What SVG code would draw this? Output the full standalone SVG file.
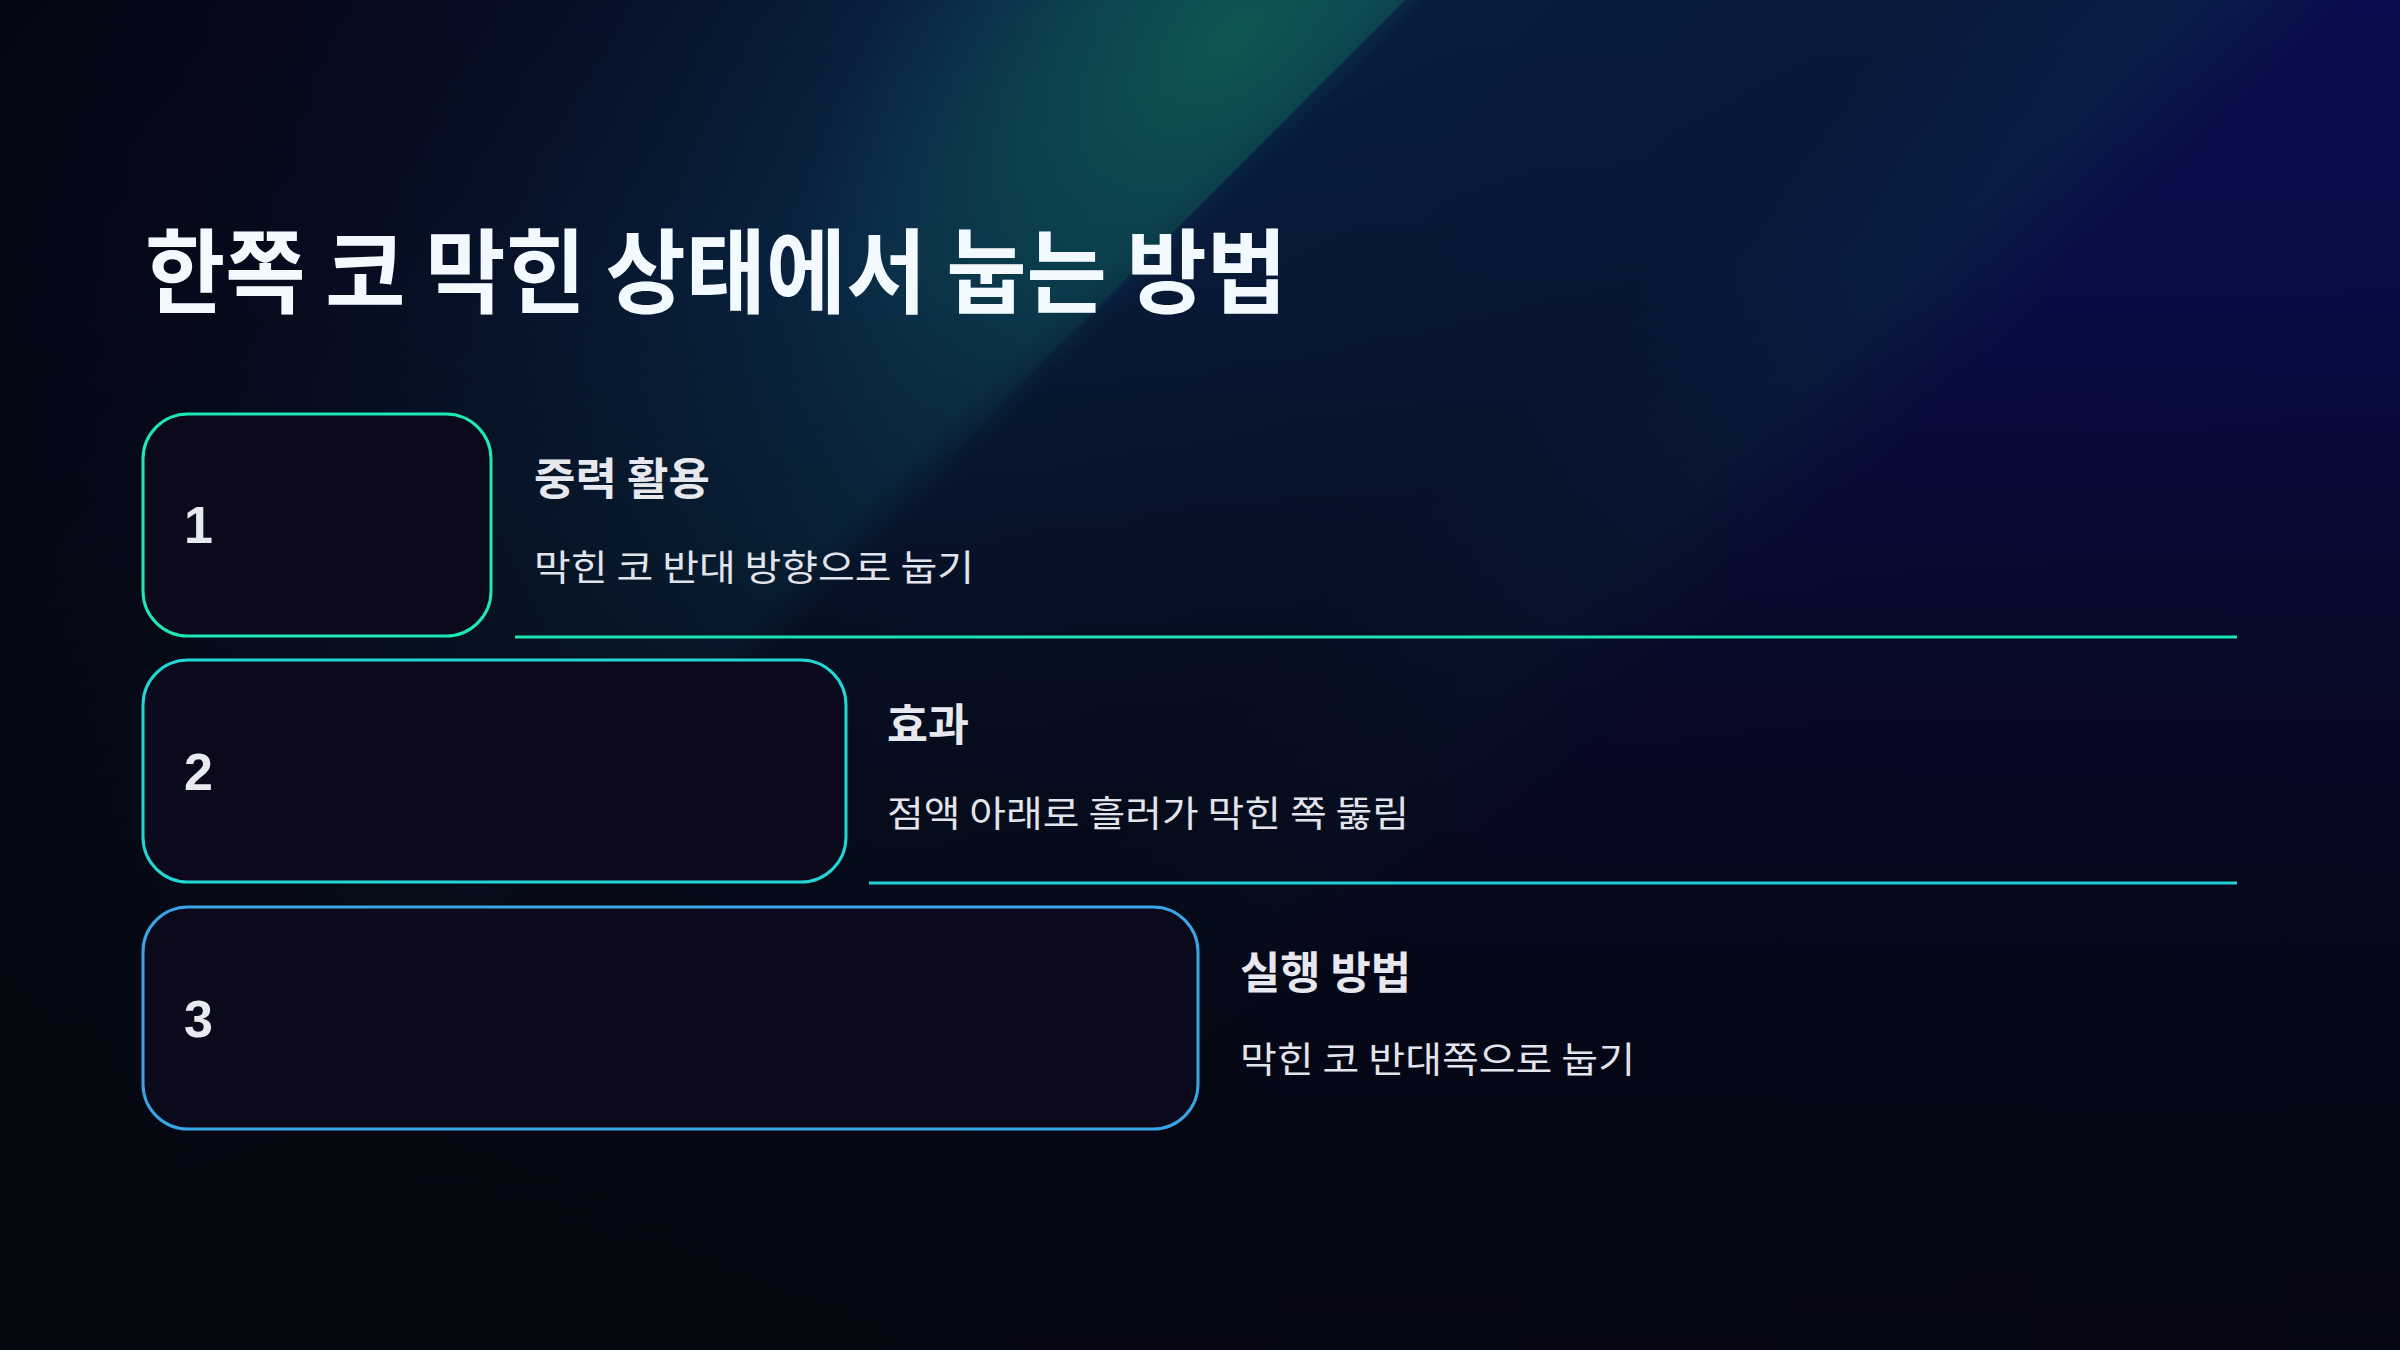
<svg xmlns="http://www.w3.org/2000/svg" width="2400" height="1350" viewBox="0 0 2400 1350">
  <defs>
    <linearGradient id="stripes" gradientUnits="userSpaceOnUse" x1="0" y1="0" x2="2400" y2="2400">
      <stop offset="0" stop-color="#05071a"/>
      <stop offset="0.12" stop-color="#07122e"/>
      <stop offset="0.22" stop-color="#0a2848"/>
      <stop offset="0.285" stop-color="#0b3656"/>
      <stop offset="0.298" stop-color="#081c3c"/>
      <stop offset="0.40" stop-color="#08183a"/>
      <stop offset="0.455" stop-color="#0a1e48"/>
      <stop offset="0.49" stop-color="#090c4c"/>
      <stop offset="1" stop-color="#090a50"/>
    </linearGradient>
    <radialGradient id="tealGlow" cx="0.5" cy="0.5" r="0.5">
      <stop offset="0" stop-color="#0f5a50" stop-opacity="0.95"/>
      <stop offset="0.5" stop-color="#0d4f52" stop-opacity="0.6"/>
      <stop offset="1" stop-color="#0b4055" stop-opacity="0"/>
    </radialGradient>
    <linearGradient id="darken" gradientUnits="userSpaceOnUse" x1="0" y1="0" x2="0" y2="1350">
      <stop offset="0" stop-color="#05060f" stop-opacity="0"/>
      <stop offset="0.2" stop-color="#05060f" stop-opacity="0.1"/>
      <stop offset="0.5" stop-color="#05060f" stop-opacity="0.6"/>
      <stop offset="0.75" stop-color="#05060f" stop-opacity="0.88"/>
      <stop offset="1" stop-color="#05060f" stop-opacity="0.97"/>
    </linearGradient>
    <linearGradient id="leftDark" gradientUnits="userSpaceOnUse" x1="0" y1="0" x2="900" y2="0">
      <stop offset="0" stop-color="#04050f" stop-opacity="0.7"/>
      <stop offset="1" stop-color="#04050f" stop-opacity="0"/>
    </linearGradient>
    <clipPath id="beamClip">
      <polygon points="0,0 1405,0 0,1405"/>
    </clipPath>
    <style>
      .box { fill: #0a0a1c; stroke-width: 3; }
      .b1 { stroke: #1ee8b4; }
      .b2 { stroke: #22d6d6; }
      .b3 { stroke: #38a6e6; }
      .num { font-family: "Liberation Sans", Arial, sans-serif; font-weight: 700; font-size: 52px; fill: #e8eaf0; }
      .head { font-family: "Noto Sans CJK KR", "Noto Sans", sans-serif; font-weight: 700; font-size: 44px; fill: #e6e8ee; }
      .desc { font-family: "Noto Sans CJK KR", "Noto Sans", sans-serif; font-weight: 400; font-size: 36px; fill: #e2e4ec; }
      .title { font-family: "Noto Sans CJK KR", "Noto Sans", sans-serif; font-weight: 700; font-size: 92px; fill: #f2f9ff; }
      .sep { stroke-width: 3; fill: none; }
    </style>
  </defs>

  <!-- background -->
  <rect x="0" y="0" width="2400" height="1350" fill="url(#stripes)"/>
  <g clip-path="url(#beamClip)">
    <ellipse cx="0" cy="0" rx="560" ry="290" fill="url(#tealGlow)" transform="translate(1230,40) rotate(-45)"/>
  </g>
  <rect x="0" y="0" width="2400" height="1350" fill="url(#leftDark)"/>
  <rect x="0" y="0" width="2400" height="1350" fill="url(#darken)"/>

  <text class="title" x="145" y="306" textLength="1142" lengthAdjust="spacingAndGlyphs">한쪽 코 막힌 상태에서 눕는 방법</text>

  <g id="separators">
    <line class="sep" x1="515" y1="637" x2="2237" y2="637" stroke="#1ee4b2"/>
    <line class="sep" x1="869" y1="883" x2="2237" y2="883" stroke="#22d0d4"/>
  </g>

  <g id="step1">
    <rect class="box b1" x="143" y="414" width="348" height="222" rx="45" ry="45"/>
    <text class="num" x="184" y="543">1</text>
    <text class="head" x="534" y="495" textLength="176" lengthAdjust="spacingAndGlyphs">중력 활용</text>
    <text class="desc" x="534" y="581" textLength="440" lengthAdjust="spacingAndGlyphs">막힌 코 반대 방향으로 눕기</text>
  </g>

  <g id="step2">
    <rect class="box b2" x="143" y="660" width="703" height="222" rx="45" ry="45"/>
    <text class="num" x="184" y="790">2</text>
    <text class="head" x="887" y="741" textLength="82" lengthAdjust="spacingAndGlyphs">효과</text>
    <text class="desc" x="887" y="827" textLength="522" lengthAdjust="spacingAndGlyphs">점액 아래로 흘러가 막힌 쪽 뚫림</text>
  </g>

  <g id="step3">
    <rect class="box b3" x="143" y="907" width="1055" height="222" rx="45" ry="45"/>
    <text class="num" x="184" y="1037">3</text>
    <text class="head" x="1240" y="989" textLength="171" lengthAdjust="spacingAndGlyphs">실행 방법</text>
    <text class="desc" x="1240" y="1073" textLength="395" lengthAdjust="spacingAndGlyphs">막힌 코 반대쪽으로 눕기</text>
  </g>
</svg>
